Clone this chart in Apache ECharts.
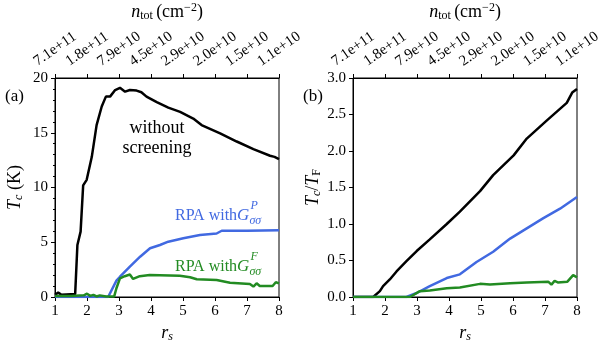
<!DOCTYPE html>
<html>
<head>
<meta charset="utf-8">
<script src="https://cdn.jsdelivr.net/npm/echarts@6/dist/echarts.min.js"></script>
<style>
	html, body { margin: 0; padding: 0; background: #fff; }
	#chart { width: 598px; height: 343px; }
</style>
</head>
<body>
<div id="chart"></div>
<script>
// r_s tick values shared by both panels, and the matching density labels on the top axis
const rsTicks = [1, 2, 3, 4, 5, 6, 7, 8];
const ntotLabels = ["7.1e+11", "1.8e+11", "7.9e+10", "4.5e+10", "2.9e+10", "2.0e+10", "1.5e+10", "1.1e+10"];

// (a) T_c in kelvin
const rsNoScreen = [1.0, 1.1, 1.2, 1.5, 1.63, 1.70, 1.80, 1.88, 1.99, 2.15, 2.30, 2.46, 2.59, 2.72, 2.88, 3.03, 3.19, 3.34, 3.55, 3.70, 3.86, 4.18, 4.54, 4.91, 5.32, 5.58, 6.16, 6.68, 7.20, 7.72, 7.86, 8.0];
const tcNoScreen = [0.2, 0.4, 0.2, 0.25, 0.25, 4.75, 5.97, 10.2, 10.7, 12.8, 15.7, 17.4, 18.3, 18.3, 18.9, 19.1, 18.75, 18.9, 18.85, 18.7, 18.3, 17.8, 17.3, 16.9, 16.3, 15.7, 14.95, 14.2, 13.5, 12.9, 12.8, 12.6];

const rsRpaP = [1.0, 2.66, 2.72, 2.92, 3.03, 3.34, 3.66, 3.97, 4.28, 4.54, 5.01, 5.53, 6.05, 6.21, 7.0, 8.0];
const tcRpaP = [0, 0, 0.1, 1.5, 1.85, 2.77, 3.68, 4.45, 4.75, 5.05, 5.36, 5.66, 5.8, 6.05, 6.05, 6.1];

const rsRpaF = [1.0, 1.5, 1.9, 2.0, 2.1, 2.2, 2.3, 2.4, 2.6, 2.85, 2.92, 3.03, 3.18, 3.34, 3.44, 3.65, 3.96, 4.9, 5.22, 5.43, 6.05, 6.47, 7.09, 7.2, 7.3, 7.4, 7.8, 7.9, 8.0];
const tcRpaF = [0.1, 0.1, 0.15, 0.3, 0.1, 0.2, 0.05, 0.15, 0.05, 0.05, 0.8, 1.7, 1.9, 2.05, 1.65, 1.9, 2.0, 1.95, 1.8, 1.62, 1.55, 1.3, 1.19, 0.95, 1.25, 1.0, 1.0, 1.35, 1.25];

// (b) T_c / T_F
const rsRatioNoScreen = [1.0, 1.63, 1.84, 1.94, 2.15, 2.36, 2.67, 2.99, 3.40, 3.93, 4.34, 4.97, 5.38, 6.02, 6.43, 7.06, 7.68, 7.85, 8.0];
const ratioNoScreen = [0, 0, 0.08, 0.15, 0.24, 0.35, 0.49, 0.63, 0.79, 1.0, 1.17, 1.45, 1.67, 1.94, 2.17, 2.42, 2.66, 2.80, 2.85];

const rsRatioP = [1.0, 2.67, 2.99, 3.40, 3.93, 4.34, 4.86, 5.38, 5.91, 6.43, 6.95, 7.47, 8.0];
const ratioP = [0, 0, 0.055, 0.15, 0.26, 0.31, 0.48, 0.62, 0.80, 0.94, 1.08, 1.21, 1.37];

const rsRatioF = [1.0, 2.78, 3.09, 3.40, 3.93, 4.34, 4.97, 5.28, 5.33, 5.91, 6.43, 7.1, 7.2, 7.3, 7.4, 7.7, 7.88, 8.0];
const ratioF = [0, 0, 0.08, 0.09, 0.12, 0.13, 0.18, 0.17, 0.16, 0.19, 0.2, 0.21, 0.17, 0.22, 0.2, 0.21, 0.30, 0.27];

const serif = "'Liberation Serif', 'DejaVu Serif', serif";
const black = "#000000";
const blue = "#4169e1";
const green = "#228b22";

const pairs = (xs, ys) => xs.map((x, i) => [x, ys[i]]);

const richMath = {
	n: { fontFamily: serif, fontSize: 18, color: black },
	i: { fontFamily: serif, fontSize: 18, fontStyle: "italic", color: black },
	sub: { fontFamily: serif, fontSize: 12, color: black, verticalAlign: "bottom", padding: [8, 0, 0, 0] },
	isub: { fontFamily: serif, fontSize: 12, fontStyle: "italic", color: black, verticalAlign: "bottom", padding: [8, 0, 0, 0] },
	sup: { fontFamily: serif, fontSize: 12, color: black, verticalAlign: "top", padding: [0, 0, 8, 0] }
};

function bottomAxis(grid) {
	return {
		type: "value", gridIndex: grid, position: "bottom",
		min: 1, max: 8, interval: 1,
		name: "{i|r}{isub|s}", nameLocation: "middle", nameGap: 21,
		nameTextStyle: { rich: richMath },
		axisLine: { show: true, lineStyle: { color: black, width: 1 } },
		axisTick: { show: true, inside: false, length: 4, lineStyle: { color: black } },
		axisLabel: { color: black, fontFamily: serif, fontSize: 15, margin: 7 },
		splitLine: { show: false }
	};
}

function topAxis(grid) {
	return {
		type: "value", gridIndex: grid, position: "top",
		min: 1, max: 8, interval: 1,
		name: "{i|n}{sub|tot} {n|(cm}{sup|−2}{n|)}", nameLocation: "middle", nameGap: 56,
		nameTextStyle: { rich: richMath },
		axisLine: { show: true, lineStyle: { color: black, width: 1 } },
		axisTick: { show: true, inside: false, length: 4, lineStyle: { color: black } },
		axisLabel: {
			color: black, fontFamily: serif, fontSize: 15, rotate: -35,
			align: "center", verticalAlign: "middle", margin: 29,
			formatter: (v) => ntotLabels[rsTicks.indexOf(v)] || ""
		},
		splitLine: { show: false }
	};
}

function lineSeries(xi, yi, data, color) {
	return {
		type: "line", xAxisIndex: xi, yAxisIndex: yi,
		data: data, showSymbol: false, symbol: "none",
		lineStyle: { color: color, width: 2.5 },
		animation: false
	};
}

// label of the form "RPA with G^{sup}_{σσ}", placed by pixel
function rpaLabel(x, y, sup, color) {
	const ctx = document.createElement("canvas").getContext("2d");
	ctx.font = "16px " + serif;
	const w1 = ctx.measureText("RPA with").width;
	ctx.font = "italic 17px " + serif;
	const w2 = ctx.measureText("G").width;
	const gx = x + w1;
	const sx = gx + w2 + 1;
	return [
		{ type: "text", x: x, y: y, style: { text: "RPA with", font: "16px " + serif, fill: color, verticalAlign: "middle" } },
		{ type: "text", x: gx, y: y, style: { text: "G", font: "italic 17px " + serif, fill: color, verticalAlign: "middle" } },
		{ type: "text", x: sx, y: y - 10, style: { text: sup, font: "italic 12px " + serif, fill: color, verticalAlign: "middle" } },
		{ type: "text", x: sx - 1, y: y + 5, style: { text: "σσ", font: "italic 12px " + serif, fill: color, verticalAlign: "middle" } }
	];
}

const chart = echarts.init(document.getElementById("chart"), null, { renderer: "canvas" });

chart.setOption({
	backgroundColor: "#ffffff",
	animation: false,
	grid: [
		{ left: 55, right: 319, top: 78, bottom: 46, outerBoundsMode: "none", containLabel: false, show: true, borderColor: black, borderWidth: 1, backgroundColor: "transparent" },
		{ left: 353, right: 21, top: 78, bottom: 46, outerBoundsMode: "none", containLabel: false, show: true, borderColor: black, borderWidth: 1, backgroundColor: "transparent" }
	],
	xAxis: [bottomAxis(0), topAxis(0), bottomAxis(1), topAxis(1)],
	yAxis: [
		{
			type: "value", gridIndex: 0, min: 0, max: 20, interval: 5,
			name: "{i|T}{isub|c}{n| (K)}", nameLocation: "middle", nameGap: 30, nameRotate: 90,
			nameTextStyle: { rich: richMath },
			axisLine: { show: true, lineStyle: { color: black, width: 1 } },
			axisTick: { show: true, inside: false, length: 4, lineStyle: { color: black } },
			minorTick: { show: true, splitNumber: 5, length: 2, lineStyle: { color: black } },
			axisLabel: { color: black, fontFamily: serif, fontSize: 15, margin: 7 },
			splitLine: { show: false }
		},
		{
			type: "value", gridIndex: 1, min: 0, max: 3, interval: 0.5,
			name: "{i|T}{isub|c}{n|/}{i|T}{sub|F}", nameLocation: "middle", nameGap: 30, nameRotate: 90,
			nameTextStyle: { rich: richMath },
			axisLine: { show: true, lineStyle: { color: black, width: 1 } },
			axisTick: { show: true, inside: false, length: 4, lineStyle: { color: black } },
			axisLabel: { color: black, fontFamily: serif, fontSize: 15, margin: 7, formatter: (v) => v.toFixed(1) },
			splitLine: { show: false }
		}
	],
	series: [
		lineSeries(0, 0, pairs(rsNoScreen, tcNoScreen), black),
		lineSeries(0, 0, pairs(rsRpaP, tcRpaP), blue),
		lineSeries(0, 0, pairs(rsRpaF, tcRpaF), green),
		lineSeries(2, 1, pairs(rsRatioNoScreen, ratioNoScreen), black),
		lineSeries(2, 1, pairs(rsRatioP, ratioP), blue),
		lineSeries(2, 1, pairs(rsRatioF, ratioF), green)
	],
	graphic: [
		{ type: "text", left: 5, top: 88, style: { text: "(a)", font: "17px " + serif, fill: black } },
		{ type: "text", left: 303, top: 88, style: { text: "(b)", font: "17px " + serif, fill: black } },
		{ type: "text", x: 157, y: 128, style: { text: "without", font: "18px " + serif, fill: black, align: "center", verticalAlign: "middle" } },
		{ type: "text", x: 157, y: 148, style: { text: "screening", font: "18px " + serif, fill: black, align: "center", verticalAlign: "middle" } }
	].concat(rpaLabel(175, 216, "P", blue), rpaLabel(175, 267, "F", green))
});
</script>
</body>
</html>
